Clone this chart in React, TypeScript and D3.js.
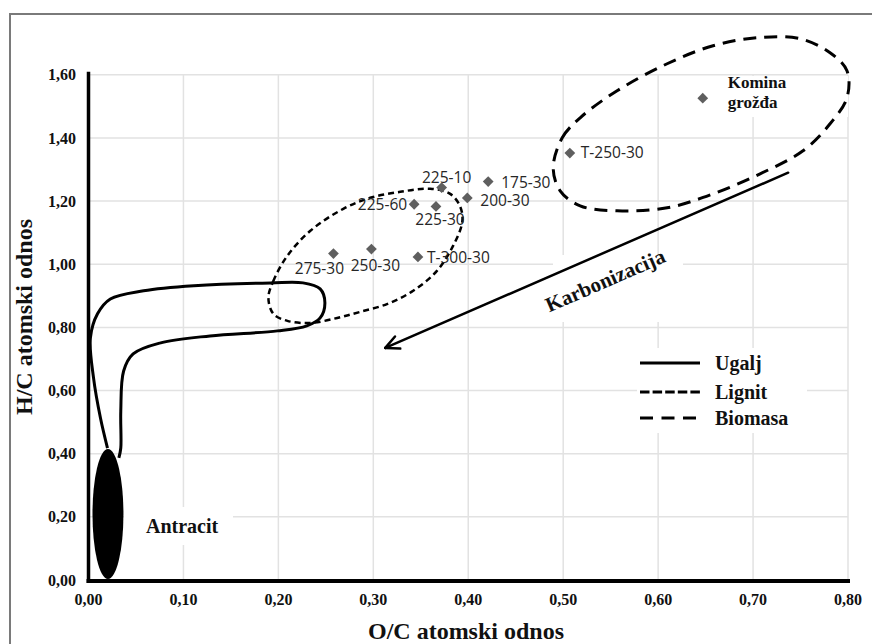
import React from 'react';
import * as d3 from 'd3';

// Axis ticks
const xTicks = [0, 0.1, 0.2, 0.3, 0.4, 0.5, 0.6, 0.7, 0.8];
const yTicks = [0, 0.2, 0.4, 0.6, 0.8, 1.0, 1.2, 1.4, 1.6];

// Samples (O/C, H/C atomic ratios)
const sampleNames = ['Komina grožđa', 'T-250-30', '175-30', '225-10', '200-30', '225-60', '225-30', '275-30', '250-30', 'T-300-30'];
const sampleOC = [0.647, 0.507, 0.421, 0.372, 0.399, 0.343, 0.366, 0.258, 0.298, 0.347];
const sampleHC = [1.526, 1.352, 1.262, 1.243, 1.210, 1.190, 1.183, 1.034, 1.048, 1.023];

// Coal region outline (Ugalj)
const ugaljOC = [0.020, 0.0126, 0.0053, 0.002, 0.0095, 0.023, 0.058, 0.111, 0.192, 0.226, 0.244, 0.249, 0.244, 0.230, 0.199, 0.128, 0.076, 0.047, 0.037, 0.034, 0.034, 0.032];
const ugaljHC = [0.418, 0.513, 0.640, 0.767, 0.843, 0.890, 0.916, 0.932, 0.941, 0.941, 0.922, 0.878, 0.830, 0.805, 0.789, 0.773, 0.751, 0.716, 0.662, 0.535, 0.418, 0.387];

// Lignite region outline (Lignit)
const lignitOC = [0.1895, 0.1947, 0.2095, 0.2337, 0.2684, 0.2968, 0.3284, 0.360, 0.381, 0.3916, 0.3937, 0.384, 0.367, 0.342, 0.315, 0.286, 0.262, 0.2337, 0.2095, 0.1947];
const lignitHC = [0.8935, 0.947, 1.027, 1.106, 1.1755, 1.2104, 1.2294, 1.239, 1.223, 1.182, 1.134, 1.058, 0.979, 0.916, 0.8745, 0.849, 0.830, 0.814, 0.8207, 0.843];

// Biomass region outline (Biomasa)
const biomasaOC = [0.4895, 0.499, 0.5179, 0.5568, 0.6095, 0.6579, 0.7042, 0.7495, 0.7811, 0.7989, 0.7989, 0.7811, 0.7526, 0.7074, 0.6579, 0.6095, 0.5568, 0.5179, 0.4968];
const biomasaHC = [1.3055, 1.4005, 1.4639, 1.5494, 1.635, 1.692, 1.7174, 1.7142, 1.6698, 1.6128, 1.5273, 1.4449, 1.3593, 1.2864, 1.2231, 1.1787, 1.1692, 1.1851, 1.2326];

// Anthracite region (centre and half-extents)
const antracitCenter = [0.0205, 0.209];
const antracitRadius = [0.0163, 0.206];

// Carbonisation arrow (from, to)
const karbonizacijaFrom = [0.737, 1.29];
const karbonizacijaTo = [0.3126, 0.735];

// Legend entries
const legendNames = ['Ugalj', 'Lignit', 'Biomasa'];

const W = 872;
const H = 644;
const SERIF = '"Liberation Serif", "Times New Roman", serif';
const SANS = '"Open Sans", "Noto Sans", sans-serif';

const x = d3.scaleLinear().domain([0, 0.8]).range([88.5, 848]);
const y = d3.scaleLinear().domain([0, 1.6]).range([580, 74.8]);

const fmt = (v: number) => d3.format('.2f')(v).replace('.', ',');

// label offsets (px) relative to each marker
const labelPlacement: Record<string, { dx: number; dy: number; anchor: string }> = {
  'T-250-30': { dx: 11, dy: 5, anchor: 'start' },
  '175-30': { dx: 13, dy: 6, anchor: 'start' },
  '225-10': { dx: 5, dy: -5, anchor: 'middle' },
  '200-30': { dx: 13, dy: 8, anchor: 'start' },
  '225-60': { dx: -7, dy: 6, anchor: 'end' },
  '225-30': { dx: 4, dy: 19, anchor: 'middle' },
  '275-30': { dx: -14, dy: 20, anchor: 'middle' },
  '250-30': { dx: 4, dy: 22, anchor: 'middle' },
  'T-300-30': { dx: 9, dy: 6, anchor: 'start' },
};

const toPoints = (xs: number[], ys: number[]) => xs.map((v, i) => [v, ys[i]] as [number, number]);

export default function App() {
  const openLine = d3
    .line<[number, number]>()
    .x((d) => x(d[0]))
    .y((d) => y(d[1]))
    .curve(d3.curveCatmullRom.alpha(0.5));
  const closedLine = d3
    .line<[number, number]>()
    .x((d) => x(d[0]))
    .y((d) => y(d[1]))
    .curve(d3.curveCatmullRomClosed.alpha(0.5));

  const diamond = d3.symbol().type(d3.symbolSquare).size(58)() as string;

  const ugaljPath = openLine(toPoints(ugaljOC, ugaljHC)) as string;
  const lignitPath = closedLine(toPoints(lignitOC, lignitHC)) as string;
  const biomasaPath = closedLine(toPoints(biomasaOC, biomasaHC)) as string;

  // arrow geometry
  const ax0 = x(karbonizacijaFrom[0]);
  const ay0 = y(karbonizacijaFrom[1]);
  const ax1 = x(karbonizacijaTo[0]);
  const ay1 = y(karbonizacijaTo[1]);
  const ang = Math.atan2(ay0 - ay1, ax0 - ax1);
  const barb = 15;
  const spread = (26 * Math.PI) / 180;
  const b1 = [ax1 + barb * Math.cos(ang - spread), ay1 + barb * Math.sin(ang - spread)];
  const b2 = [ax1 + barb * Math.cos(ang + spread), ay1 + barb * Math.sin(ang + spread)];
  const angDeg = (ang * 180) / Math.PI;

  const [x0, x1] = x.range();
  const [y0, y1] = y.range();

  const legendX = 640;
  const legendY = [363, 392, 418];
  const legendDash = [null, '9.5,3.1', '13,8.5'];

  return (
    <svg
      width={W}
      height={H}
      viewBox={`0 0 ${W} ${H}`}
      style={{ position: 'absolute', left: 0, top: 0, background: '#fff' }}
    >
      <rect x={0} y={0} width={W} height={H} fill="#fff" />
      {/* outer frame */}
      <rect x={10} y={14} width={900} height={700} fill="none" stroke="#7a7a7a" strokeWidth={2} />

      {/* gridlines */}
      <g stroke="#e2e2e2" strokeWidth={1.5}>
        {xTicks.slice(1).map((t) => (
          <line key={`gx${t}`} x1={x(t)} x2={x(t)} y1={y1} y2={y0} />
        ))}
        {yTicks.slice(1).map((t) => (
          <line key={`gy${t}`} x1={x0} x2={x1} y1={y(t)} y2={y(t)} />
        ))}
      </g>

      {/* label backgrounds */}
      <g fill="#fff">
        <rect x={688} y={76} width={160} height={41} />
        <rect x={553} y={255} width={130} height={67} />
        <rect x={637} y={348} width={170} height={85} />
        <rect x={124} y={507} width={109} height={38} />
      </g>

      {/* axes */}
      <line x1={x0} x2={x0} y1={y1 - 3} y2={y0 + 3} stroke="#000" strokeWidth={3.5} />
      <line x1={x0 - 2} x2={x1 + 2} y1={y0 + 1} y2={y0 + 1} stroke="#000" strokeWidth={4} />

      {/* tick labels */}
      <g fontFamily={SERIF} fontWeight="bold" fontSize={16} fill="#111">
        {yTicks.map((t) => (
          <text key={`ty${t}`} x={76} y={y(t)} dy="0.35em" textAnchor="end">
            {fmt(t)}
          </text>
        ))}
        {xTicks.map((t) => (
          <text key={`tx${t}`} x={x(t)} y={605} textAnchor="middle">
            {fmt(t)}
          </text>
        ))}
      </g>

      {/* axis titles */}
      <text x={466} y={639} textAnchor="middle" fontFamily={SERIF} fontWeight="bold" fontSize={24} fill="#111">
        O/C atomski odnos
      </text>
      <text
        transform="translate(32,317) rotate(-90)"
        textAnchor="middle"
        fontFamily={SERIF}
        fontWeight="bold"
        fontSize={24}
        fill="#111"
      >
        H/C atomski odnos
      </text>

      {/* regions */}
      <ellipse
        cx={x(antracitCenter[0])}
        cy={y(antracitCenter[1])}
        rx={x(antracitCenter[0] + antracitRadius[0]) - x(antracitCenter[0])}
        ry={y(antracitCenter[1]) - y(antracitCenter[1] + antracitRadius[1])}
        fill="#000"
      />
      <path d={ugaljPath} fill="none" stroke="#000" strokeWidth={3} strokeLinejoin="round" />
      <path d={lignitPath} fill="none" stroke="#000" strokeWidth={2.5} strokeDasharray="6,4" />
      <path d={biomasaPath} fill="none" stroke="#000" strokeWidth={3} strokeDasharray="13,8" />

      {/* carbonisation arrow */}
      <g stroke="#000" strokeWidth={2.5} strokeLinecap="round">
        <line x1={ax0} y1={ay0} x2={ax1} y2={ay1} />
        <line x1={ax1} y1={ay1} x2={b1[0]} y2={b1[1]} />
        <line x1={ax1} y1={ay1} x2={b2[0]} y2={b2[1]} />
      </g>
      <text
        transform={`translate(608,287) rotate(${angDeg})`}
        textAnchor="middle"
        fontFamily={SERIF}
        fontWeight="bold"
        fontSize={21}
        fill="#111"
      >
        Karbonizacija
      </text>

      {/* samples */}
      <g>
        {sampleNames.map((n, i) => (
          <path
            key={`p${n}`}
            d={diamond}
            transform={`translate(${x(sampleOC[i])},${y(sampleHC[i])}) rotate(45)`}
            fill="#5f5f5f"
          />
        ))}
      </g>
      <g fontFamily={SANS} fontSize={15.5} fill="#262626">
        {sampleNames.map((n, i) => {
          const p = labelPlacement[n];
          if (!p) return null;
          return (
            <text key={`l${n}`} x={x(sampleOC[i]) + p.dx} y={y(sampleHC[i]) + p.dy} textAnchor={p.anchor}>
              {n}
            </text>
          );
        })}
      </g>
      <text fontFamily={SERIF} fontWeight="bold" fontSize={17} fill="#111">
        <tspan x={x(sampleOC[0]) + 25} y={y(sampleHC[0]) - 10}>
          {sampleNames[0].split(' ')[0]}
        </tspan>
        <tspan x={x(sampleOC[0]) + 25} y={y(sampleHC[0]) + 10}>
          {sampleNames[0].split(' ')[1]}
        </tspan>
      </text>

      {/* anthracite label */}
      <text x={146} y={533} fontFamily={SERIF} fontWeight="bold" fontSize={20} fill="#111">
        Antracit
      </text>

      {/* legend */}
      <g>
        {legendNames.map((n, i) => (
          <g key={`lg${n}`}>
            <line
              x1={legendX}
              x2={legendX + 60}
              y1={legendY[i]}
              y2={legendY[i]}
              stroke="#000"
              strokeWidth={3}
              strokeDasharray={legendDash[i] ?? undefined}
            />
            <text x={715} y={legendY[i] + 7} fontFamily={SERIF} fontWeight="bold" fontSize={20} fill="#111">
              {n}
            </text>
          </g>
        ))}
      </g>
    </svg>
  );
}
